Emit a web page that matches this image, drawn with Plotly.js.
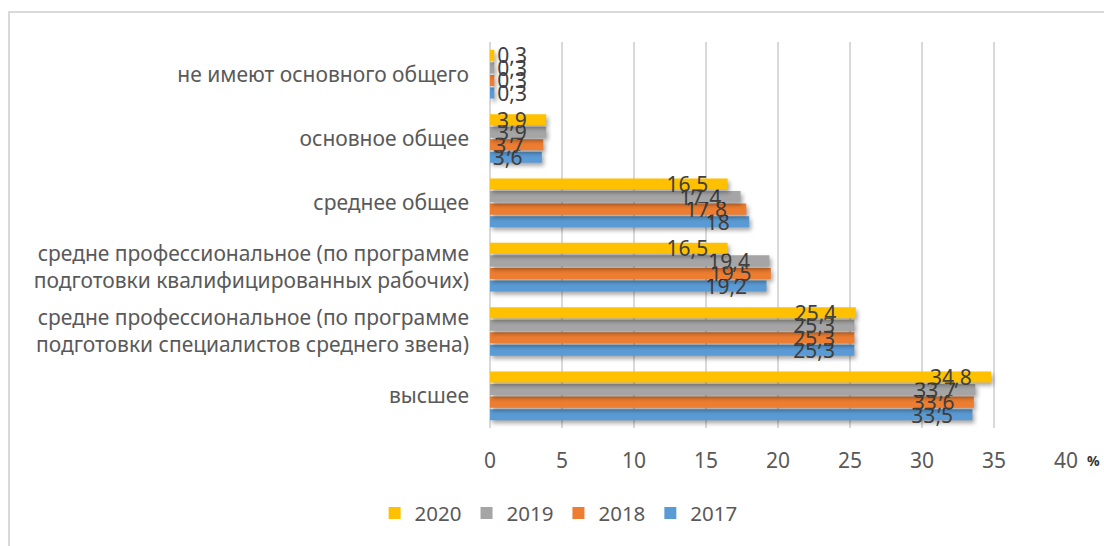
<!DOCTYPE html>
<html>
<head>
<meta charset="utf-8">
<script src="https://cdn.plot.ly/plotly-3.0.1.min.js"></script>
<style>
  html, body { margin: 0; padding: 0; background: #fff; }
  #wrap { position: relative; width: 1104px; height: 546px; overflow: hidden; }
  #chart { position: absolute; left: 0; top: 0; width: 1104px; height: 546px; }
  #frame { position: absolute; left: 8px; top: 11px; width: 1200px; height: 700px;
           border-left: 2px solid #d9d9d9; border-top: 2px solid #d9d9d9; pointer-events: none; }
  .barlayer .point path { filter: drop-shadow(2px 3px 2px rgba(0,0,0,0.35)); }
</style>
</head>
<body>
<div id="wrap">
  <div id="chart"></div>
  <div id="frame"></div>
</div>
<script>
// Categories listed bottom to top
const categories = [
  'высшее',
  'средне профессиональное (по программе<br>подготовки специалистов среднего звена)',
  'средне профессиональное (по программе<br>подготовки квалифицированных рабочих)',
  'среднее общее',
  'основное общее',
  'не имеют основного общего'
];
const years = ['2017', '2018', '2019', '2020'];
const values2017 = [33.5, 25.3, 19.2, 18, 3.6, 0.3];
const values2018 = [33.6, 25.3, 19.5, 17.8, 3.7, 0.3];
const values2019 = [33.7, 25.3, 19.4, 17.4, 3.9, 0.3];
const values2020 = [34.8, 25.4, 16.5, 16.5, 3.9, 0.3];
const colors = ['#5B9BD5', '#ED7D31', '#A5A5A5', '#FFC000'];
const xTicks = [0, 5, 10, 15, 20, 25, 30, 35, 40];

const series = [values2017, values2018, values2019, values2020];
const FONT = 'Noto Sans, Open Sans, sans-serif';
const labelFont = { family: FONT, size: 21, color: '#404040' };
const NB = '\u00a0\u00a0\u00a0';

const traces = series.map((vals, i) => ({
  type: 'bar',
  orientation: 'h',
  name: years[i],
  y: categories,
  x: vals,
  marker: { color: colors[i] },
  text: vals.map(v => String(v).replace('.', ',') + (v < 1 ? '' : NB)),
  textposition: vals.map(v => (v < 1 ? 'outside' : 'inside')),
  insidetextanchor: 'end',
  constraintext: 'none',
  textangle: 0,
  textfont: labelFont,
  insidetextfont: labelFont,
  outsidetextfont: labelFont,
  cliponaxis: false,
  hoverinfo: 'x+name'
}));

const layout = {
  width: 1104,
  height: 546,
  margin: { l: 490, r: 38, t: 42, b: 118 },
  paper_bgcolor: 'rgba(0,0,0,0)',
  plot_bgcolor: 'rgba(0,0,0,0)',
  barmode: 'group',
  bargap: 0.22,
  bargroupgap: 0.12,
  font: { family: FONT, color: '#595959', size: 20 },
  xaxis: {
    range: [0, 40],
    tickvals: xTicks,
    ticktext: xTicks.map(String),
    showgrid: true,
    gridcolor: '#d9d9d9',
    gridwidth: 1.5,
    zeroline: true,
    zerolinecolor: '#d9d9d9',
    zerolinewidth: 1.5,
    showline: false,
    ticks: '',
    ticklabelstandoff: 18,
    tickfont: { size: 21, color: '#595959' },
    fixedrange: true
  },
  yaxis: {
    type: 'category',
    categoryorder: 'array',
    categoryarray: categories,
    showgrid: false,
    zeroline: false,
    showline: false,
    ticks: '',
    ticklabelstandoff: 20,
    tickfont: { size: 21, color: '#595959' },
    fixedrange: true
  },
  legend: {
    orientation: 'h',
    traceorder: 'reversed',
    xref: 'container',
    yref: 'container',
    x: 0.506,
    xanchor: 'center',
    y: 0.06,
    yanchor: 'middle',
    font: { size: 20.5, color: '#595959' },
    itemwidth: 30
  },
  annotations: [{
    xref: 'paper', yref: 'paper',
    x: 1.033, y: -0.083,
    xanchor: 'left', yanchor: 'middle',
    text: '<b>%</b>',
    showarrow: false,
    font: { size: 14, color: '#333333' }
  }],
  showlegend: true
};

Plotly.newPlot('chart', traces, layout, { displayModeBar: false, staticPlot: true });
</script>
</body>
</html>
